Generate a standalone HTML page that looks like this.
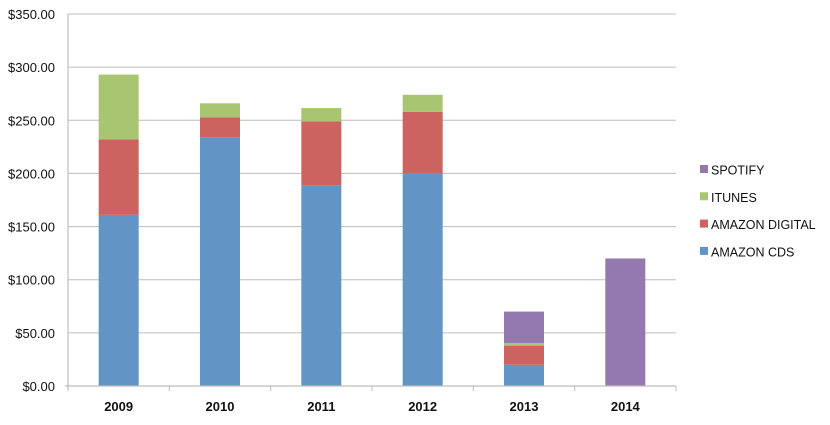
<!DOCTYPE html>
<html><head><meta charset="utf-8"><style>
body{margin:0;background:#fff;width:830px;height:420px;overflow:hidden}
text{font-family:"Liberation Sans",sans-serif;fill:#111}
</style></head><body>
<svg id="chart" width="830" height="420" xmlns="http://www.w3.org/2000/svg">
<g id="grid"></g>
<g id="bars"></g>
<g id="axes"></g>
<g id="legend"></g>
</svg>
<script>
const categories = ["2009","2010","2011","2012","2013","2014"];
const amazonCds = [161,234,189,200,20,0];
const amazonDigital = [71,18.6,60,58,18,0];
const itunes = [61,13.4,12.5,16,2.5,0];
const spotify = [0,0,0,0,29.5,120];
const yTicks = [0,50,100,150,200,250,300,350];
const seriesNames = ["AMAZON CDS","AMAZON DIGITAL","ITUNES","SPOTIFY"];
const colors = ["#6394c6","#cc6360","#a8c572","#9479b0"];
const NS="http://www.w3.org/2000/svg";
const x0=68,x1=676,y0=386,y1=14,yMax=350;
const band=(x1-x0)/categories.length, bw=40;
const yS=v=>y0-(v/yMax)*(y0-y1);
const xC=i=>x0+band*(i+0.5);
function mk(t,a,p){const e=document.createElementNS(NS,t);for(const k in a)e.setAttribute(k,a[k]);p.appendChild(e);return e;}
const grid=document.getElementById('grid'),axes=document.getElementById('axes'),bars=document.getElementById('bars'),legend=document.getElementById('legend');
yTicks.forEach(v=>{
  const l=mk('line',{x1:x0,x2:x1,y1:yS(v),y2:yS(v),stroke:'#bdbdbd','stroke-width':1},grid);
  
  
  const t=mk('text',{x:55,y:yS(v)+5,'text-anchor':'end','font-size':13},axes);
  t.textContent='$'+v.toFixed(2);
  
  
});
mk('line',{x1:x0,x2:x0,y1:y1,y2:y0+4,stroke:'#bdbdbd','stroke-width':1.2},axes);
mk('line',{x1:x0-3,x2:x1,y1:y0,y2:y0,stroke:'#bdbdbd','stroke-width':1.2},axes);
for(let i=0;i<=categories.length;i++){mk('line',{x1:x0+band*i,x2:x0+band*i,y1:y0,y2:y0+5,stroke:'#bdbdbd'},axes);}
const series=[amazonCds,amazonDigital,itunes,spotify];
categories.forEach((c,i)=>{
  let acc=0;
  series.forEach((s,j)=>{
    const v=s[i]; if(v<=0)return;
    const r=mk('rect',{x:xC(i)-bw/2,y:yS(acc+v),width:bw,height:yS(acc)-yS(acc+v),fill:colors[j]},bars);
    
    
    acc+=v;
  });
  const t=mk('text',{x:xC(i),y:411,'text-anchor':'middle','font-size':13,'font-weight':'bold'},axes);
  t.textContent=c;
  
  
});
[3,2,1,0].forEach((j,k)=>{
  const y=170+k*27.3;
  const r=mk('rect',{x:700,y:y-5,width:8,height:8,fill:colors[j]},legend);
  
  
  const t=mk('text',{x:711,y:y+4.5,'font-size':12.5},legend);
  t.textContent=seriesNames[j];
  
  
});
</script>
</body></html>
